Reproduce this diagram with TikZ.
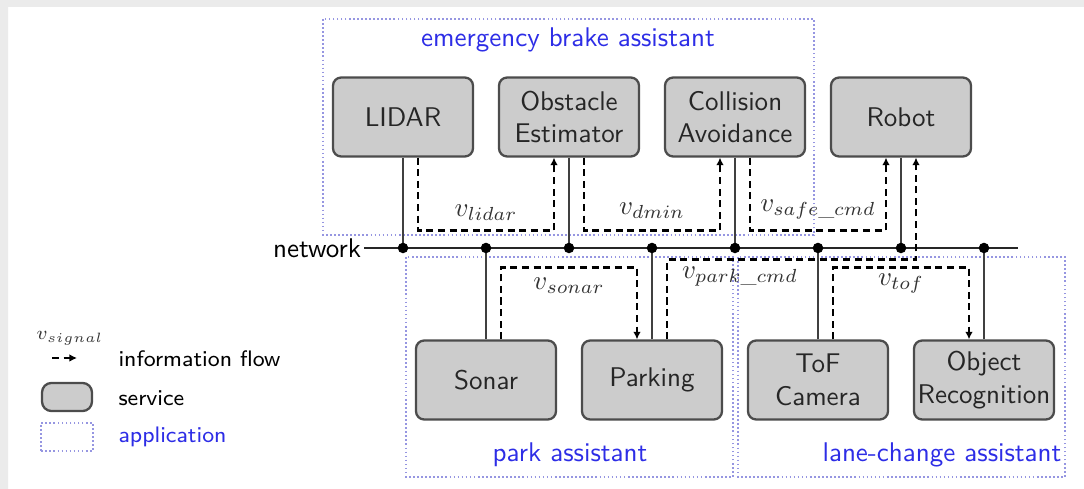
\documentclass[tikz,border=0pt]{standalone}
\usepackage{amsmath}
\usetikzlibrary{arrows.meta, positioning, calc}
\definecolor{appblue}{RGB}{45,45,230}
\definecolor{appline}{RGB}{150,150,225}
\begin{document}
\begin{tikzpicture}[x=0.37pt, y=-0.37pt,
    service/.style={draw=black!70, fill=black!20, line width=0.85pt, rounded corners=3pt,
      minimum width=51.8pt, minimum height=29.2pt, inner sep=1pt, align=center,
      font=\sffamily, text=black!85},
    app/.style={draw=appline, line width=0.7pt, dash pattern=on 0.6pt off 0.9pt},
    apptitle/.style={text=appblue, font=\sffamily},
    flow/.style={line width=0.95pt, dash pattern=on 2.6pt off 1.7pt, -{Latex[length=2.8pt, width=2.8pt]}},
    link/.style={line width=0.85pt, black!75},
    dot/.style={circle, fill=black, inner sep=0pt, minimum size=3.9pt},
    sig/.style={inner sep=0pt, text=black!80},
    legtext/.style={anchor=west, font=\sffamily\fontsize{8.3}{10}\selectfont}
  ]
  \useasboundingbox (0,0) rectangle (1084,489);
  \fill[black!8] (0,0) rectangle (1084,7) (0,0) rectangle (8,489);

  % applications
  \draw[app] (323,19) rectangle (814,235);
  \draw[app] (406,257) rectangle (733,477);
  \draw[app] (738,257) rectangle (1065,477);
  \node[apptitle] (ebatitle) at (568,40) {emergency brake assistant};
  \node[apptitle] (patitle) at (570,455) {park assistant};
  \node[apptitle] (lcatitle) at (942,455) {lane-change assistant};

  % services
  \node[service] (lidar) at (403,117) {LIDAR};
  \node[service] (obst) at (569,117) {Obstacle\\Estimator};
  \node[service] (coll) at (735,117) {Collision\\Avoidance};
  \node[service] (robot) at (901,117) {Robot};
  \node[service] (sonar) at (486,380) {Sonar};
  \node[service] (park) at (652,380) {Parking};
  \node[service] (tof) at (818,380) {ToF\\Camera};
  \node[service] (objrec) at (984,380) {Object\\Recognition};

  % network
  \node[font=\sffamily, inner sep=1pt] (net) at (317,248) {network};
  \coordinate (netend) at (1018,248);
  \draw[line width=0.95pt, black!85] (net.east) -- (netend);
  \foreach \s in {lidar,obst,coll,robot}
    \draw[link] (\s.south) -- (\s.south |- net.center) node[dot] {};
  \foreach \s in {sonar,park,tof,objrec}
    \draw[link] (\s.north) -- (\s.north |- net.center) node[dot] {};

  % information flows
  \draw[flow] ($(lidar.south)+(15,0)$) |- ($(obst.south)+(-15,73)$) -- ($(obst.south)+(-15,0)$);
  \draw[flow] ($(obst.south)+(15,0)$) |- ($(coll.south)+(-15,73)$) -- ($(coll.south)+(-15,0)$);
  \draw[flow] ($(coll.south)+(15,0)$) |- ($(robot.south)+(-15,73)$) -- ($(robot.south)+(-15,0)$);
  \draw[flow] ($(sonar.north)+(15,0)$) |- ($(park.north)+(-15,-72)$) -- ($(park.north)+(-15,0)$);
  \draw[flow] ($(park.north)+(15,0)$) |- ($(robot.south)+(15,102)$) -- ($(robot.south)+(15,0)$);
  \draw[flow] ($(tof.north)+(15,0)$) |- ($(objrec.north)+(-15,-72)$) -- ($(objrec.north)+(-15,0)$);
  \node[sig] (vlidar) at ($(lidar.south)!0.5!(obst.south)+(0,55)$) {$v_{lidar}$};
  \node[sig] (vdmin) at ($(obst.south)!0.5!(coll.south)+(0,53)$) {$v_{dmin}$};
  \node[sig] (vsafe) at ($(coll.south)!0.5!(robot.south)+(0,52)$) {$v_{safe\_cmd}$};
  \node[sig] (vsonar) at ($(sonar.north)!0.5!(park.north)+(0,-54)$) {$v_{sonar}$};
  \node[sig] (vpark) at ($(park.north)+(88,-63)$) {$v_{park\_cmd}$};
  \node[sig] (vtof) at ($(tof.north)!0.5!(objrec.north)+(0,-56)$) {$v_{tof}$};

  % legend
  \node[sig, font=\scriptsize] (legsig) at (70,338) {$v_{signal}$};
  \coordinate (legfrom) at (52,358);
  \coordinate (legto) at (77,358);
  \draw[flow] (legfrom) -- (legto);
  \node[legtext] (legflow) at (109,359) {information flow};
  \node[service, minimum width=18.5pt, minimum height=10.4pt, rounded corners=3.5pt] (legsvc) at (67,397) {};
  \node[legtext] (legsvctext) at (109,398) {service};
  \node[app, minimum width=19pt, minimum height=10.6pt] (legapp) at (67,437) {};
  \node[legtext, text=appblue] (legapptext) at (109,437) {application};
\end{tikzpicture}
\end{document}
